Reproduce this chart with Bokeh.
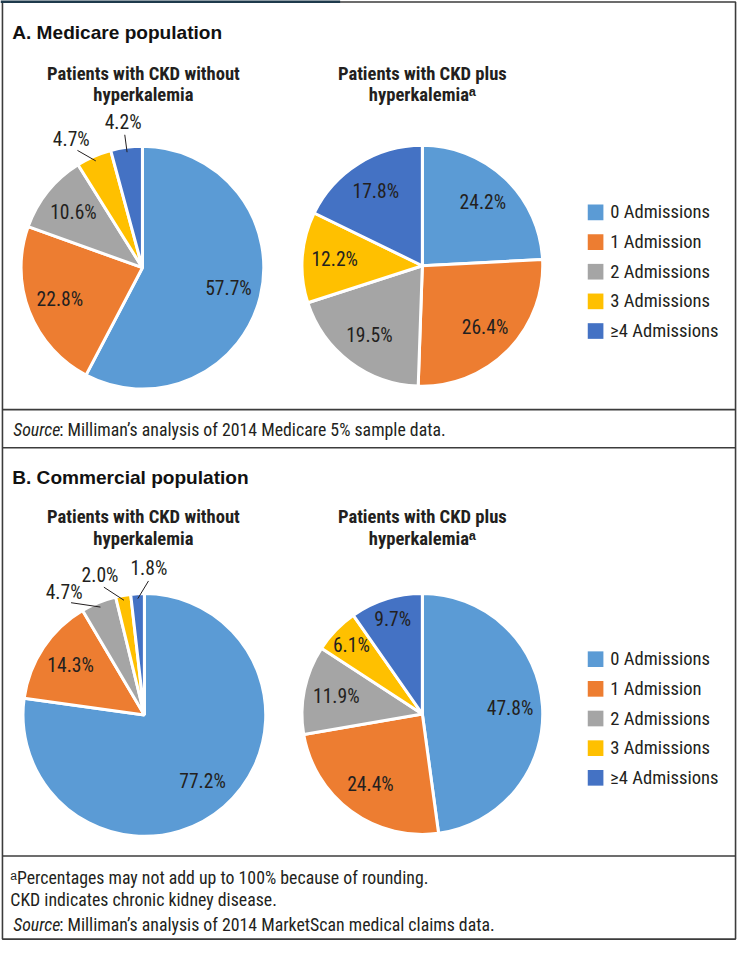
import numpy as np
from bokeh.plotting import figure
from bokeh.models import ColumnDataSource, Range1d
from bokeh.core.properties import value
from bokeh.embed import file_html
from bokeh.resources import INLINE

# ---------------- data ----------------
categories = ["0 Admissions", "1 Admission", "2 Admissions", "3 Admissions", "\u22654 Admissions"]
medicare_without = [57.7, 22.8, 10.6, 4.7, 4.2]
medicare_with = [24.2, 26.4, 19.5, 12.2, 17.8]
commercial_without = [77.2, 14.3, 4.7, 2.0, 1.8]
commercial_with = [47.8, 24.4, 11.9, 6.1, 9.7]
colors = ["#5B9BD5", "#ED7D31", "#A5A5A5", "#FFC000", "#4472C4"]

title_a = "A. Medicare population"
title_b = "B. Commercial population"
sub_without = ["Patients with CKD without", "hyperkalemia"]
sub_with = ["Patients with CKD plus", "hyperkalemia\u1d43"]
source_a = ": Milliman\u2019s analysis of 2014 Medicare 5% sample data."
footnotes = ["\u1d43Percentages may not add up to 100% because of rounding.",
             "CKD indicates chronic kidney disease."]
source_b = ": Milliman\u2019s analysis of 2014 MarketScan medical claims data."

# ---------------- layout ----------------
W, H = 737, 945
REF_W = 753
S = W / REF_W
YSPAN = H / S

NARROW = value("Roboto Condensed, Roboto, sans-serif")
WIDE = value("Liberation Sans, Arial, sans-serif")
INK = "#231f20"
NOTE = 18.2


def fs(px):
    return value(f"{px * S:.2f}px")


p = figure(width=W, height=H, x_range=Range1d(0, REF_W), y_range=Range1d(-YSPAN, 0),
           output_backend="svg", toolbar_location=None, min_border=0,
           x_axis_location=None, y_axis_location=None)
p.xgrid.visible = False
p.ygrid.visible = False
p.outline_line_color = None
p.background_fill_color = "white"
p.border_fill_color = "white"


def Y(y):
    return -y


def txt(x, y, s, size=19, font=NARROW, style="normal", align="left", color=INK):
    p.text(x=[x], y=[Y(y)], text=[s], text_font=font, text_font_size=fs(size),
           text_font_style=style, text_align=align, text_baseline="middle",
           text_color=color)


def pie(vals, cx, cy, r, nudges):
    vals = np.array(vals, dtype=float)
    frac = vals / vals.sum()
    cum = np.concatenate([[0.0], np.cumsum(frac)])
    start = np.pi / 2 - 2 * np.pi * cum[1:]
    end = np.pi / 2 - 2 * np.pi * cum[:-1]
    src = ColumnDataSource(dict(start=start, end=end, color=colors))
    p.wedge(x=cx, y=Y(cy), radius=r, start_angle="start", end_angle="end",
            fill_color="color", line_color="white", line_width=3, source=src)

    mid_cw = 360.0 * (cum[:-1] + cum[1:]) / 2.0  # clockwise from 12 o'clock, degrees
    lx, ly, lt = [], [], []
    sx0, sy0, sx1, sy1 = [], [], [], []
    k = 0
    for v, m in zip(vals, mid_cw):
        label = f"{v:.1f}%"
        if v < 5:
            nud = nudges[k]
            k += 1
            a_lab = np.radians(90 - (m + nud))
            a_mid = np.radians(90 - m)
            d = r + 26
            lx.append(cx + d * np.cos(a_lab))
            ly.append(Y(cy) + d * np.sin(a_lab))
            sx0.append(cx + 0.96 * r * np.cos(a_mid))
            sy0.append(Y(cy) + 0.96 * r * np.sin(a_mid))
            sx1.append(cx + (d - 13) * np.cos(a_lab))
            sy1.append(Y(cy) + (d - 13) * np.sin(a_lab))
        else:
            f = 0.82 if v < 10 else 0.73
            a = np.radians(90 - m)
            lx.append(cx + f * r * np.cos(a))
            ly.append(Y(cy) + f * r * np.sin(a))
        lt.append(label)
    if sx0:
        p.segment(x0=sx0, y0=sy0, x1=sx1, y1=sy1, line_color=INK, line_width=1)
    p.text(x=lx, y=ly, text=lt, text_font=NARROW, text_font_size=fs(20),
           text_align="center", text_baseline="middle", text_color=INK)


def legend(x_sq, y0, dy):
    ys = [Y(y0 + dy * i) for i in range(len(categories))]
    p.rect(x=[x_sq] * len(categories), y=ys, width=16, height=16,
           fill_color=colors, line_color=None)
    p.text(x=[x_sq + 15] * len(categories), y=ys, text=categories, text_font=NARROW,
           text_font_size=fs(19), text_align="left", text_baseline="middle",
           text_color=INK)


# frame
p.quad(left=[2], right=[751], top=[Y(1.5)], bottom=[Y(959)], fill_color=None,
       line_color="#3c3c3c", line_width=1.6)
p.segment(x0=[0], y0=[Y(1)], x1=[347], y1=[Y(1)], line_color="#1e3a4c", line_width=3)
for yy in (418, 457, 874):
    p.segment(x0=[2], y0=[Y(yy)], x1=[751], y1=[Y(yy)], line_color="#3c3c3c", line_width=1.6)

# ---- Panel A ----
txt(12, 33, title_a, size=19.5, font=WIDE, style="bold", color="#111111")
txt(146, 75, sub_without[0], style="bold", align="center")
txt(146, 97, sub_without[1], style="bold", align="center")
txt(431, 75, sub_with[0], style="bold", align="center")
txt(431, 97, sub_with[1], style="bold", align="center")
pie(medicare_without, 145, 273, 124, [-5.4, 0.0])
pie(medicare_with, 431, 271, 123, [])
legend(608, 216.5, 30.3)
txt(13, 438, "Source", size=NOTE, style="italic")
txt(60, 438, source_a, size=NOTE)

# ---- Panel B ----
txt(12, 487, title_b, size=19.5, font=WIDE, style="bold", color="#111111")
txt(146, 528, sub_without[0], style="bold", align="center")
txt(146, 550, sub_without[1], style="bold", align="center")
txt(431, 528, sub_with[0], style="bold", align="center")
txt(431, 550, sub_with[1], style="bold", align="center")
pie(commercial_without, 147, 730, 124, [-11.0, -7.5, 5.0])
pie(commercial_with, 431, 729, 123, [])
legend(608, 673, 30.3)

txt(10, 896, footnotes[0], size=NOTE)
txt(10, 919, footnotes[1], size=NOTE)
txt(13, 944, "Source", size=NOTE, style="italic")
txt(60, 944, source_b, size=NOTE)

open("out.html", "w").write(file_html(p, INLINE))
